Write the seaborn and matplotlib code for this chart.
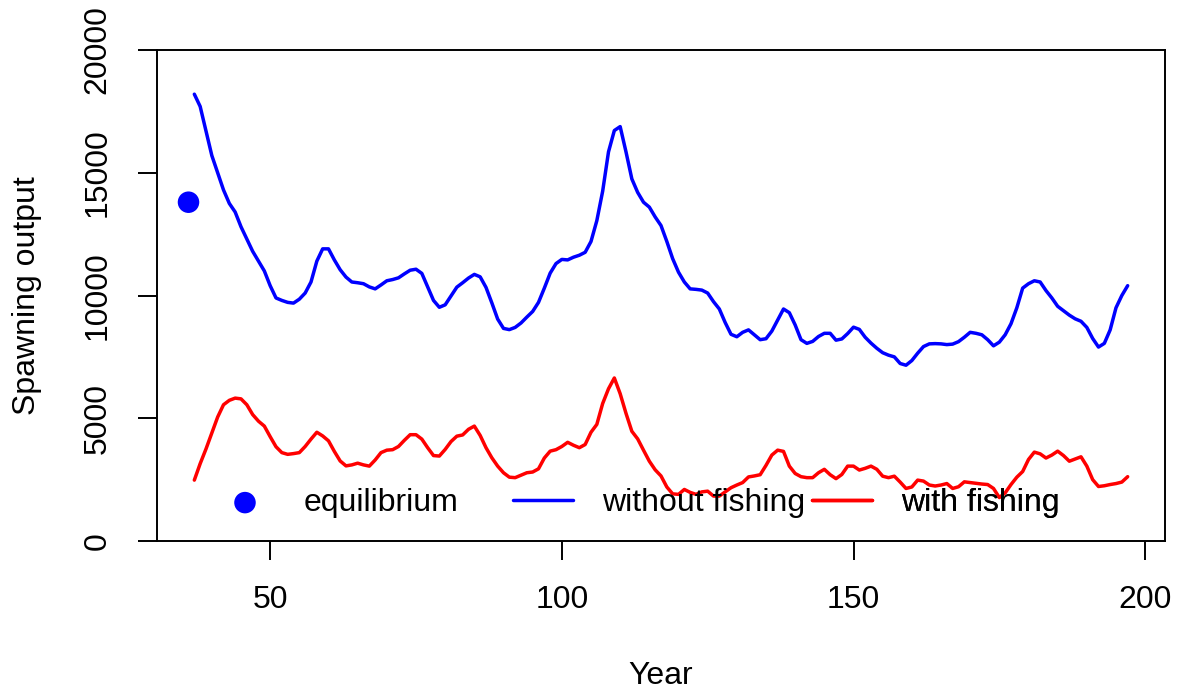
import numpy as np
import pandas as pd
import matplotlib
matplotlib.use("Agg")
import matplotlib.pyplot as plt
import seaborn as sns

# years of the projection
years = list(range(37, 198))

# spawning output, no fishing
without_fishing = [
    18200, 17700, 16700, 15700, 15000, 14300, 13750, 13400, 12800, 12300,  # 37-46
    11800, 11400, 11000, 10400, 9900, 9800, 9720, 9690, 9850, 10100,        # 47-56
    10550, 11400, 11900, 11900, 11450, 11050, 10750, 10550, 10520, 10480,   # 57-66
    10350, 10270, 10430, 10600, 10650, 10720, 10880, 11030, 11070, 10900,   # 67-76
    10350, 9800, 9520, 9620, 9980, 10340, 10520, 10710, 10860, 10760,       # 77-86
    10330, 9700, 9040, 8660, 8610, 8700, 8880, 9120, 9350, 9720,            # 87-96
    10300, 10910, 11300, 11470, 11450, 11560, 11640, 11760, 12200, 13050,   # 97-106
    14250, 15850, 16720, 16880, 15850, 14750, 14200, 13800, 13600, 13200,   # 107-116
    12850, 12200, 11500, 10950, 10550, 10270, 10250, 10220, 10100, 9750,    # 117-126
    9450, 8900, 8420, 8320, 8500, 8600, 8400, 8200, 8240, 8550,             # 127-136
    9000, 9450, 9300, 8800, 8200, 8050, 8130, 8330, 8460, 8460,             # 137-146
    8180, 8230, 8450, 8710, 8620, 8300, 8060, 7850, 7670, 7570,             # 147-156
    7500, 7230, 7160, 7350, 7650, 7920, 8030, 8040, 8030, 8000,             # 157-166
    8020, 8120, 8300, 8500, 8460, 8400, 8200, 7950, 8100, 8400,             # 167-176
    8850, 9500, 10300, 10480, 10600, 10550, 10200, 9900, 9560, 9380,        # 177-186
    9200, 9050, 8950, 8700, 8250, 7900, 8050, 8600, 9500, 10000,            # 187-196
    10400,                                                                  # 197
]

# spawning output with fishing
with_fishing = [
    2480, 3150, 3750, 4400, 5050, 5550, 5730, 5820, 5790, 5550,   # 37-46
    5150, 4880, 4680, 4250, 3840, 3600, 3530, 3560, 3600, 3850,   # 47-56
    4150, 4430, 4280, 4080, 3650, 3260, 3060, 3100, 3170, 3100,   # 57-66
    3050, 3300, 3600, 3700, 3720, 3850, 4100, 4330, 4330, 4150,   # 67-76
    3800, 3480, 3460, 3730, 4050, 4270, 4320, 4550, 4680, 4300,   # 77-86
    3800, 3390, 3050, 2780, 2600, 2580, 2680, 2780, 2810, 2940,   # 87-96
    3380, 3660, 3720, 3850, 4020, 3900, 3800, 3930, 4430, 4750,   # 97-106
    5600, 6200, 6640, 6000, 5200, 4470, 4160, 3700, 3250, 2900,   # 107-116
    2650, 2200, 1920, 1900, 2100, 1980, 1900, 2000, 2030, 1830,   # 117-126
    1830, 2000, 2170, 2280, 2380, 2610, 2650, 2700, 3080, 3500,   # 127-136
    3700, 3650, 3050, 2750, 2620, 2580, 2580, 2780, 2920, 2700,   # 137-146
    2540, 2710, 3050, 3050, 2890, 2960, 3050, 2920, 2640, 2580,   # 147-156
    2640, 2400, 2140, 2200, 2480, 2440, 2280, 2240, 2280, 2340,   # 157-166
    2140, 2210, 2410, 2380, 2350, 2320, 2300, 2140, 1770, 1960,   # 167-176
    2300, 2600, 2830, 3320, 3620, 3550, 3380, 3500, 3660, 3480,   # 177-186
    3250, 3340, 3430, 3050, 2500, 2220, 2250, 2300, 2340, 2400,   # 187-196
    2620,                                                         # 197
]

# unfished equilibrium
eq_year = [36]
eq_value = [13800]

sns.set_theme(style="white")
plt.rcParams['font.family'] = ['Liberation Sans', 'DejaVu Sans']
plt.rcParams['text.color'] = 'black'
plt.rcParams['axes.labelcolor'] = 'black'

FS = 23

fig = plt.figure(figsize=(11.78, 6.92), dpi=100)
ax = fig.add_axes([157 / 1178, 1 - 541 / 692, 1008 / 1178, 491 / 692])

sns.scatterplot(x=eq_year, y=eq_value, color='#0000ff', s=240, edgecolor='none',
                label='equilibrium', ax=ax, legend=False)
sns.lineplot(x=years, y=without_fishing, color='#0000ff', lw=2.5,
             label='without fishing', ax=ax, legend=False)
sns.lineplot(x=years, y=with_fishing, color='#ff0000', lw=2.5,
             label='with fishing', ax=ax, legend=False)

ax.set_xlim(30.6, 203.4)
ax.set_ylim(0, 20000)
ax.set_xticks([50, 100, 150, 200])
ax.set_yticks([0, 5000, 10000, 15000, 20000])
ax.set_yticklabels(['0', '5000', '10000', '15000', '20000'], rotation=90, va='center')
ax.tick_params(axis='both', direction='out', length=14, width=1.4, pad=18,
               labelsize=FS, colors='black', bottom=True, left=True)
for sp in ax.spines.values():
    sp.set_color('black')
    sp.set_linewidth(1.4)

ax.set_xlabel('Year', fontsize=FS)
ax.set_ylabel('Spawning output', fontsize=FS)
ax.xaxis.set_label_coords(0.5, -0.245)
ax.yaxis.set_label_coords(-0.114, 0.5)

# R-style horizontal legend with fixed column widths
handles, labels = ax.get_legend_handles_labels()
for h, l, fx in zip(handles, labels, [0.0575, 0.353, 0.650]):
    leg = ax.legend([h], [l], loc='center left', bbox_to_anchor=(fx, 0.0774),
                    frameon=False, borderpad=0, borderaxespad=0, fontsize=FS,
                    handlelength=1.88, handletextpad=0.91, scatterpoints=1)
    ax.add_artist(leg)

fig.savefig('out.png', dpi=100)
